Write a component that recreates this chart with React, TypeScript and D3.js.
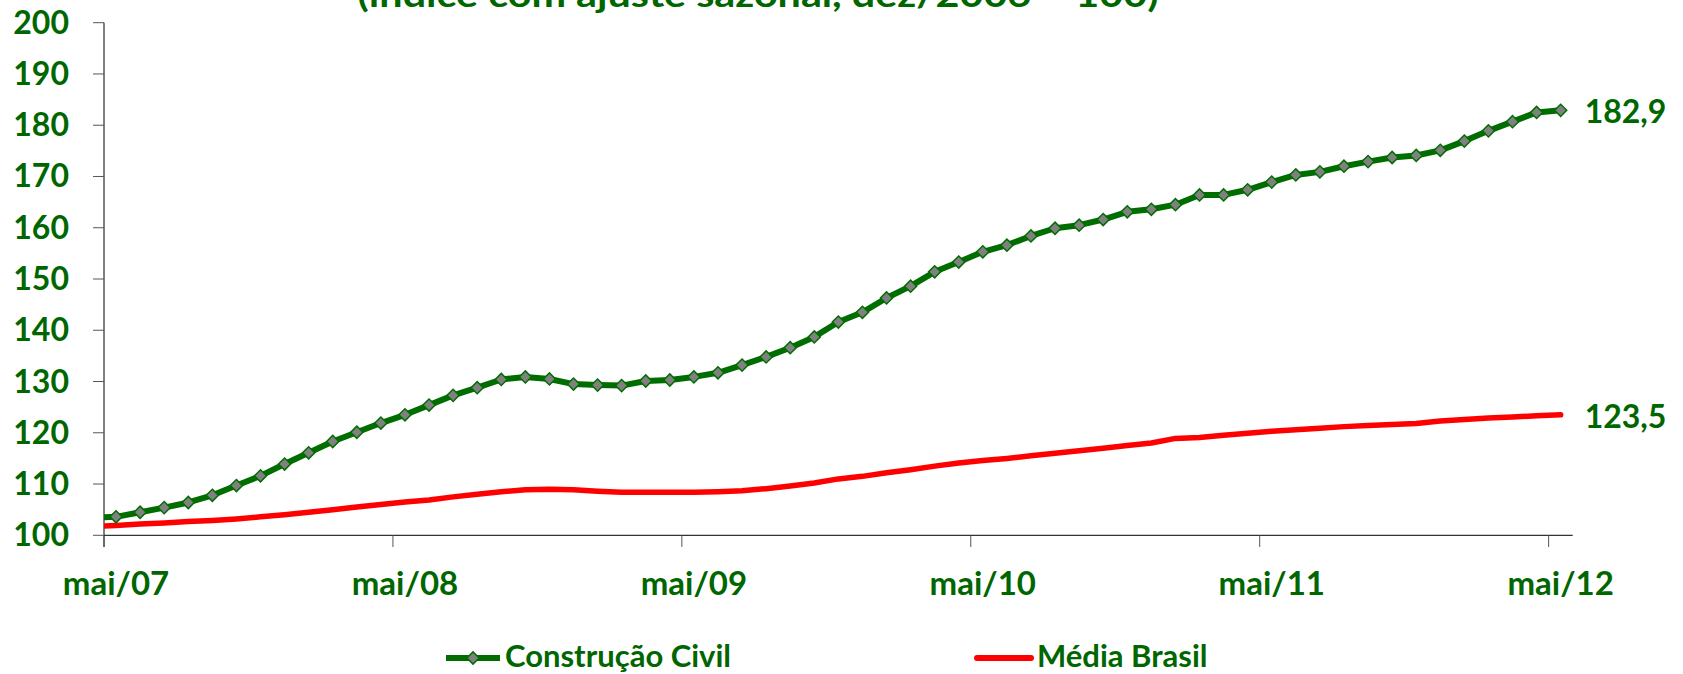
import React from 'react';
import * as d3 from 'd3';

// monthly index, seasonally adjusted (dez/2006 = 100); abr/07 sits just left of the axis and is clipped
const months = [
  'abr/07', 'mai/07', 'jun/07', 'jul/07', 'ago/07', 'set/07', 'out/07', 'nov/07', 'dez/07',
  'jan/08', 'fev/08', 'mar/08', 'abr/08', 'mai/08', 'jun/08', 'jul/08', 'ago/08', 'set/08', 'out/08', 'nov/08', 'dez/08',
  'jan/09', 'fev/09', 'mar/09', 'abr/09', 'mai/09', 'jun/09', 'jul/09', 'ago/09', 'set/09', 'out/09', 'nov/09', 'dez/09',
  'jan/10', 'fev/10', 'mar/10', 'abr/10', 'mai/10', 'jun/10', 'jul/10', 'ago/10', 'set/10', 'out/10', 'nov/10', 'dez/10',
  'jan/11', 'fev/11', 'mar/11', 'abr/11', 'mai/11', 'jun/11', 'jul/11', 'ago/11', 'set/11', 'out/11', 'nov/11', 'dez/11',
  'jan/12', 'fev/12', 'mar/12', 'abr/12', 'mai/12',
];

const construcaoCivil = [
  103.4, 103.6, 104.5, 105.4, 106.4, 107.8, 109.7, 111.6, 113.9,
  116.1, 118.3, 120.1, 121.9, 123.5, 125.4, 127.3, 128.8, 130.4, 130.9, 130.5, 129.5,
  129.3, 129.2, 130.1, 130.3, 130.9, 131.7, 133.2, 134.8, 136.6, 138.7, 141.6, 143.5,
  146.3, 148.6, 151.4, 153.3, 155.3, 156.6, 158.4, 159.9, 160.5, 161.6, 163.1, 163.6,
  164.5, 166.4, 166.4, 167.4, 168.9, 170.3, 170.9, 172.0, 172.9, 173.7, 174.1, 175.1,
  176.9, 178.9, 180.7, 182.5, 182.9,
];

const mediaBrasil = [
  101.7, 101.9, 102.2, 102.4, 102.7, 102.9, 103.2, 103.6, 104.0,
  104.5, 105.0, 105.5, 106.0, 106.5, 106.9, 107.5, 108.0, 108.5, 108.9, 109.0, 108.9,
  108.6, 108.4, 108.4, 108.4, 108.4, 108.5, 108.7, 109.1, 109.6, 110.2, 111.0, 111.5,
  112.2, 112.8, 113.5, 114.1, 114.6, 115.0, 115.5, 116.0, 116.5, 117.0, 117.5, 118.0,
  118.9, 119.1, 119.5, 119.9, 120.3, 120.6, 120.9, 121.2, 121.4, 121.6, 121.8, 122.3,
  122.6, 122.9, 123.1, 123.3, 123.5,
];

const tickMonths = ['mai/07', 'mai/08', 'mai/09', 'mai/10', 'mai/11', 'mai/12'];
const yTicks = [100, 110, 120, 130, 140, 150, 160, 170, 180, 190, 200];

const W = 1683;
const H = 674;
const GREEN = '#006600';
const LINE_GREEN = '#006d00';
const RED = '#ff0000';
const FONT = "Lato, 'Open Sans', sans-serif";

const fmt = (v: number) => v.toFixed(1).replace('.', ',');

const App: React.FC = () => {
  const x = d3.scaleLinear().domain([0.5, months.length - 0.5]).range([104, 1572.7]);
  const y = d3.scaleLinear().domain([100, 200]).range([535.3, 22.7]);

  const line = d3.line<number>()
    .x((_, i) => x(i))
    .y(d => y(d));

  const diamond = d3.symbol(d3.symbolSquare, 74)() || '';
  const last = months.length - 1;

  return (
    <svg width={W} height={H} style={{ position: 'absolute', left: 0, top: 0, background: '#fff' }}
      fontFamily={FONT} fontWeight="bold">
      <defs>
        <clipPath id="plot">
          <rect x={104} y={0} width={1572.7 - 104} height={540} />
        </clipPath>
      </defs>

      {/* title (cut off at the top of the picture) */}
      <text x={758} y={7} textAnchor="middle" fontSize={34} fill={GREEN} textLength={801} lengthAdjust="spacingAndGlyphs">
        (índice com ajuste sazonal, dez/2006 = 100)
      </text>

      {/* y axis */}
      <line x1={104} x2={104} y1={y(200)} y2={547} stroke="#000" strokeWidth={1} />
      {yTicks.map(t => (
        <g key={t}>
          <line x1={93} x2={104} y1={y(t)} y2={y(t)} stroke="#555" strokeWidth={1} />
          <text x={69} y={y(t) + 11} textAnchor="end" fontSize={32} fill={GREEN}>{t}</text>
        </g>
      ))}

      {/* x axis */}
      <line x1={104} x2={1572.7} y1={y(100)} y2={y(100)} stroke="#000" strokeWidth={1} />
      {tickMonths.map(m => {
        const i = months.indexOf(m);
        return (
          <g key={m}>
            <line x1={x(i - 0.5)} x2={x(i - 0.5)} y1={y(100)} y2={547} stroke="#555" strokeWidth={1} />
            <text x={x(i)} y={595} textAnchor="middle" fontSize={33} fill={GREEN}>{m}</text>
          </g>
        );
      })}

      {/* series */}
      <g clipPath="url(#plot)">
        <path d={line(mediaBrasil) || ''} fill="none" stroke={RED} strokeWidth={5.5} strokeLinejoin="round" strokeLinecap="round" />
        <path d={line(construcaoCivil) || ''} fill="none" stroke={LINE_GREEN} strokeWidth={6} strokeLinejoin="round" />
      </g>
      {construcaoCivil.map((v, i) => i === 0 ? null : (
        <path key={i} d={diamond} transform={`translate(${x(i)},${y(v)}) rotate(45)`}
          fill="#808080" stroke={LINE_GREEN} strokeWidth={1.5} />
      ))}

      {/* end value labels */}
      <text x={x(last) + 24} y={y(construcaoCivil[last]) + 13} fontSize={32} fill={GREEN}>{fmt(construcaoCivil[last])}</text>
      <text x={x(last) + 24} y={y(mediaBrasil[last]) + 13} fontSize={32} fill={GREEN}>{fmt(mediaBrasil[last])}</text>

      {/* legend */}
      <line x1={446} x2={500} y1={658} y2={658} stroke={LINE_GREEN} strokeWidth={6} />
      <path d={diamond} transform="translate(473,658) rotate(45)" fill="#808080" stroke={LINE_GREEN} strokeWidth={1.5} />
      <text x={505} y={667} fontSize={31} fill={GREEN}>Construção Civil</text>
      <line x1={977} x2={1031} y1={658} y2={658} stroke={RED} strokeWidth={6} strokeLinecap="round" />
      <text x={1037} y={667} fontSize={31} fill={GREEN}>Média Brasil</text>
    </svg>
  );
};

export default App;
